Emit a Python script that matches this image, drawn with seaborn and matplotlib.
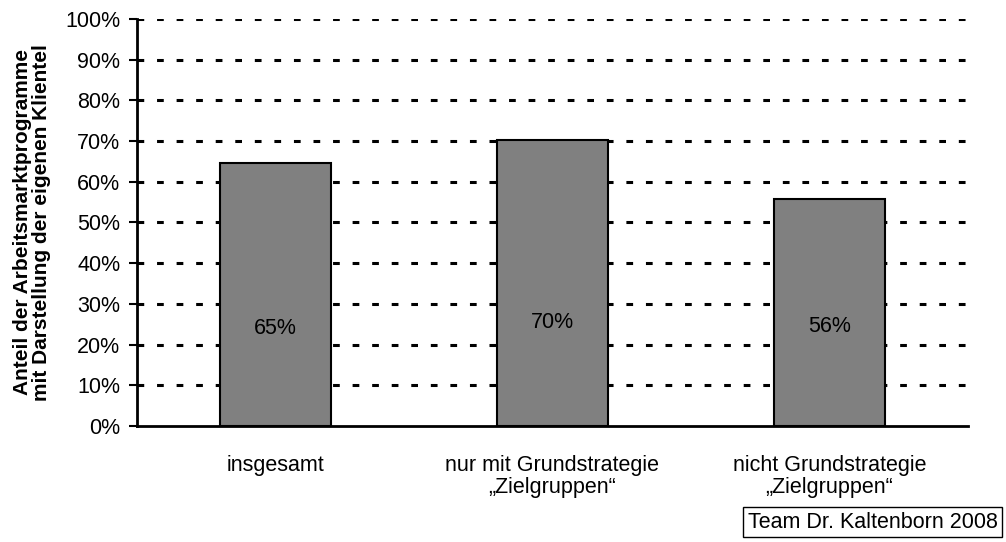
import matplotlib
matplotlib.use("Agg")
import matplotlib.pyplot as plt
import seaborn as sns
import pandas as pd

categories = ["insgesamt", "nur mit Grundstrategie\n\u201eZielgruppen\u201c", "nicht Grundstrategie\n\u201eZielgruppen\u201c"]
values = [64.6, 70.3, 55.8]
value_labels = ["65%", "70%", "56%"]
y_ticks = [0, 10, 20, 30, 40, 50, 60, 70, 80, 90, 100]
y_tick_labels = [f"{t}%" for t in y_ticks]
ylabel = "Anteil der Arbeitsmarktprogramme\nmit Darstellung der eigenen Klientel"
source = "Team Dr. Kaltenborn 2008"

# label vertical positions (layout only)
label_y = [24.0, 25.5, 24.5]

sns.set_theme(style="white")
plt.rcParams["font.family"] = ["Liberation Sans", "DejaVu Sans"]
plt.rcParams.update({"text.color": "black", "axes.labelcolor": "black",
                     "xtick.color": "black", "ytick.color": "black"})

df = pd.DataFrame({"cat": categories, "val": values})

fig = plt.figure(figsize=(10.06, 5.42), dpi=100)
ax = fig.add_axes([0.136, 0.214, 0.826, 0.751])

sns.barplot(data=df, x="cat", y="val", ax=ax, color="#808080", saturation=1,
            width=0.4, edgecolor="black", linewidth=1.5, zorder=3)

ax.set_ylim(0, 100)
ax.set_yticks(y_ticks)
ax.set_yticklabels(y_tick_labels, fontsize=15.5, color="black")
ax.tick_params(axis="y", direction="out", length=6, width=1.5, color="black", left=True, pad=6)
ax.tick_params(axis="x", length=0, labelsize=15.5, pad=21, labelcolor="black")
for lbl in ax.get_xticklabels():
    lbl.set_linespacing(1.05)
ax.set_xlabel("")
ax.set_ylabel(ylabel, fontsize=15, fontweight="bold", labelpad=10, linespacing=1.0, color="black")

for t in y_ticks[1:]:
    ax.axhline(t, color="black", linewidth=2.2, linestyle=(0, (2.2, 4.2)), zorder=1)

for i, (lab, ly) in enumerate(zip(value_labels, label_y)):
    ax.text(i, ly, lab, ha="center", va="center", fontsize=15.5, color="black", zorder=4)

for s in ["top", "right"]:
    ax.spines[s].set_visible(False)
ax.spines["left"].set_linewidth(2)
ax.spines["bottom"].set_linewidth(2)
ax.spines["left"].set_color("black")
ax.spines["bottom"].set_color("black")

fig.text(0.9915, 0.017, source, ha="right", va="bottom", fontsize=15.5, color="black",
         bbox=dict(boxstyle="square,pad=0.2", facecolor="white", edgecolor="black", linewidth=1))

fig.savefig("out.png", dpi=100)
